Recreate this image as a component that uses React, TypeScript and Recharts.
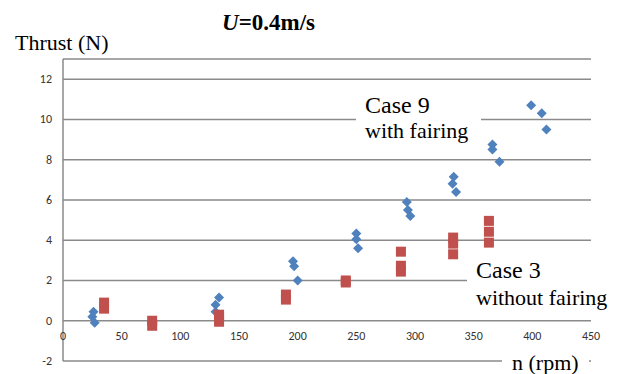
import React from "react";
import { ScatterChart, Scatter, XAxis, YAxis, CartesianGrid } from "recharts";

// Case 9 (with fairing) — blue diamonds
const case9Rpm = [26, 25, 27, 133, 130, 130, 196, 197, 200, 250, 250, 251.5, 293, 294, 296, 333, 332, 335, 366, 366, 372, 399, 408, 412];
const case9Thrust = [0.45, 0.2, -0.1, 1.15, 0.8, 0.45, 2.95, 2.7, 2.0, 4.33, 4.05, 3.6, 5.9, 5.5, 5.2, 7.15, 6.8, 6.4, 8.75, 8.5, 7.9, 10.7, 10.3, 9.5];

// Case 3 (without fairing) — red squares
const case3Rpm = [35, 35, 76, 76, 133, 133, 133, 190, 190, 241, 241, 288, 288, 288, 332.5, 332.5, 332.5, 363, 363, 363];
const case3Thrust = [0.9, 0.6, 0.0, -0.25, 0.3, 0.15, -0.05, 1.3, 1.05, 2.0, 1.9, 3.43, 2.73, 2.44, 4.13, 3.83, 3.3, 4.96, 4.42, 3.88];

const xTicks = [0, 50, 100, 150, 200, 250, 300, 350, 400, 450];
const yTicks = [-2, 0, 2, 4, 6, 8, 10, 12];

const case9Data = case9Rpm.map((x, i) => ({ x, y: case9Thrust[i] }));
const case3Data = case3Rpm.map((x, i) => ({ x, y: case3Thrust[i] }));

const W = 614;
const H = 366;
const M_TOP = 51;
const M_RIGHT = 31;
const M_BOTTOM = 13;
const Y_AXIS_W = 55;
const Y_MIN = -2;
const Y_MAX = 13;
const PLOT_H = H - M_TOP - M_BOTTOM;
const ZERO_Y = M_TOP + (PLOT_H * (Y_MAX - 0)) / (Y_MAX - Y_MIN);

const GRID = "#8a8a8a";
const BLUE = "#4F81BD";
const RED = "#C0504D";
const TICK_FONT = "'Carlito'";
const SERIF = "'Liberation Serif'";

const Diamond = (props: any) => {
  const { cx, cy } = props;
  const r = 5;
  return (
    <polygon
      points={`${cx},${cy - r} ${cx + r},${cy} ${cx},${cy + r} ${cx - r},${cy}`}
      fill={BLUE}
    />
  );
};

const Square = (props: any) => {
  const { cx, cy } = props;
  const s = 10;
  return <rect x={cx - s / 2} y={cy - s / 2} width={s} height={s} fill={RED} />;
};

const XTick = (props: any) => {
  const { x, payload } = props;
  return (
    <text x={x} y={ZERO_Y + 19} textAnchor="middle" style={{ fontSize: 12, fontFamily: TICK_FONT, fill: "#333" }}>
      {payload.value}
    </text>
  );
};

const YTick = (props: any) => {
  const { x, y, payload } = props;
  return (
    <text x={x} y={y} dy={4} textAnchor="end" style={{ fontSize: 12, fontFamily: TICK_FONT, fill: "#333" }}>
      {payload.value}
    </text>
  );
};

// baseline-positioned HTML label (line-height 1 => baseline at ~0.8375em from top for Liberation Serif)
const Label = ({ x, baseline, size, bold, children }: any) => (
  <div
    style={{
      position: "absolute",
      left: x,
      top: baseline - 0.8375 * size,
      fontFamily: SERIF,
      fontSize: size,
      lineHeight: 1,
      fontWeight: bold ? "bold" : "normal",
      color: "#000",
      whiteSpace: "nowrap",
    }}
  >
    {children}
  </div>
);

const WhiteBox = ({ x, y, w, h }: any) => (
  <div style={{ position: "absolute", left: x, top: y, width: w, height: h, background: "#fff" }} />
);

export default function App() {
  return (
    <div style={{ position: "relative", width: W, height: H }}>
      <ScatterChart width={W} height={H} margin={{ top: M_TOP, right: M_RIGHT, bottom: 0, left: 0 }}>
        <CartesianGrid horizontal vertical={false} stroke={GRID} strokeWidth={1.5} />
        <XAxis
          type="number"
          dataKey="x"
          domain={[0, 450]}
          ticks={xTicks}
          axisLine={false}
          tickLine={false}
          height={M_BOTTOM}
          tick={<XTick />}
          interval={0}
        />
        <YAxis
          type="number"
          dataKey="y"
          domain={[Y_MIN, Y_MAX]}
          ticks={yTicks}
          width={Y_AXIS_W}
          axisLine={{ stroke: GRID, strokeWidth: 1.5 }}
          tickLine={false}
          tickSize={0}
          tickMargin={11}
          tick={<YTick />}
          interval={0}
        />
        <Scatter data={case9Data} shape={<Diamond />} isAnimationActive={false} />
        <Scatter data={case3Data} shape={<Square />} isAnimationActive={false} />
      </ScatterChart>
      <WhiteBox x={348} y={80} w={125} h={59} />
      <WhiteBox x={459} y={248} w={155} h={56} />
      <WhiteBox x={494} y={337} w={87} h={29} />
      <Label x={214} baseline={22} size={23} bold>
        <i>U</i>=0.4m/s
      </Label>
      <Label x={7} baseline={42} size={22}>Thrust (N)</Label>
      <Label x={357} baseline={105} size={24}>Case 9</Label>
      <Label x={357} baseline={130} size={22}>with fairing</Label>
      <Label x={468} baseline={270} size={24}>Case 3</Label>
      <Label x={468} baseline={297} size={22}>without fairing</Label>
      <Label x={504} baseline={362} size={22}>n (rpm)</Label>
    </div>
  );
}
